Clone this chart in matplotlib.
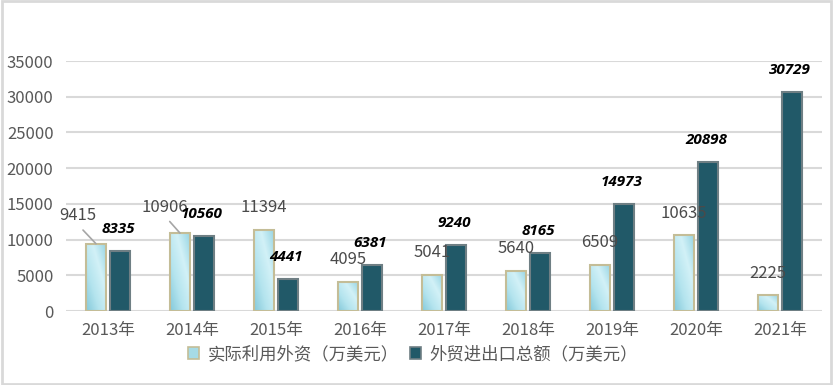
import numpy as np
import matplotlib
matplotlib.use("Agg")
import matplotlib.pyplot as plt
from matplotlib.colors import LinearSegmentedColormap
from matplotlib.patches import Rectangle

plt.rcParams["font.family"] = ["Noto Sans CJK SC", "DejaVu Sans"]

# Data
years = ["2013年", "2014年", "2015年", "2016年", "2017年", "2018年", "2019年", "2020年", "2021年"]
fdi = [9415, 10906, 11394, 4095, 5041, 5640, 6509, 10635, 2225]
trade = [8335, 10560, 4441, 6381, 9240, 8165, 14973, 20898, 30729]
fdi_name = "实际利用外资（万美元）"
trade_name = "外贸进出口总额（万美元）"

text_gray = "#595959"
grid_gray = "#d9d9d9"
cyan_edge = "#c4bd97"
dark_face = "#215968"
dark_edge = "#6f7f84"

fig = plt.figure(figsize=(8.33, 3.85), dpi=100)
ax = fig.add_axes([66 / 833, 1 - 311 / 385, (822 - 66) / 833, 250 / 385])

x = np.arange(len(years))
w = 0.23
off = 0.143

# Light cyan "water" gradient for the first series
cmap = LinearSegmentedColormap.from_list("water", ["#86cadb", "#b4e4ee", "#d2f1f7", "#9ad6e4"])
yy, xx = np.mgrid[0:1:40j, 0:1:20j]
grad = (xx + yy) / 2

bars1 = ax.bar(x - off, fdi, w, facecolor="none", edgecolor=cyan_edge, linewidth=1.5, zorder=3)
for b in bars1:
    im = ax.imshow(grad, extent=[b.get_x(), b.get_x() + b.get_width(), 0, b.get_height()],
                   aspect="auto", cmap=cmap, origin="lower", zorder=2, interpolation="bilinear")
    im.set_clip_path(b)

bars2 = ax.bar(x + off, trade, w, facecolor=dark_face, edgecolor=dark_edge, linewidth=1.5, zorder=3)

ax.set_xlim(-0.5, len(years) - 0.5)
ax.set_ylim(0, 35000)
ax.set_yticks(range(0, 35001, 5000))
ax.set_xticks(x)
ax.set_xticklabels(years)
ax.tick_params(axis="y", length=0, pad=9, labelsize=12, labelcolor=text_gray)
ax.tick_params(axis="x", length=0, pad=8, labelsize=12, labelcolor=text_gray)
ax.grid(axis="y", color=grid_gray, linewidth=1.5, zorder=0)
ax.set_axisbelow(True)
for s in ax.spines.values():
    s.set_visible(False)

# Data labels for first series (two were dragged aside with leader lines)
moved = {0: (-18.5, 28), 1: (-15.5, 26)}
for i, v in enumerate(fdi):
    bx = x[i] - off
    if i in moved:
        ax.annotate(str(v), (bx, v), xytext=moved[i], textcoords="offset pixels",
                    ha="center", va="center", fontsize=12, color="#4a4a4a",
                    annotation_clip=False,
                    arrowprops=dict(arrowstyle="-", color="#a6a6a6", lw=1.2,
                                    relpos=(0.5, 0), shrinkA=3, shrinkB=0))
    else:
        ax.annotate(str(v), (bx, v), xytext=(0, 22), textcoords="offset pixels",
                    ha="center", va="center", fontsize=12, color="#4a4a4a",
                    annotation_clip=False)

for i, v in enumerate(trade):
    ax.annotate(str(v), (x[i] + off, v), xytext=(-2, 22), textcoords="offset pixels",
                ha="center", va="center", fontsize=11, color="black",
                fontweight="bold", fontstyle="italic", family=["Open Sans", "DejaVu Sans"],
                annotation_clip=False)

leg_handles = [Rectangle((0, 0), 1, 1, facecolor="#a6dbe6", edgecolor=cyan_edge, linewidth=1.2),
               Rectangle((0, 0), 1, 1, facecolor=dark_face, edgecolor=dark_edge, linewidth=1.2)]
fig.legend(leg_handles, [fdi_name, trade_name], loc="center", bbox_to_anchor=(413 / 833, 1 - 354 / 385),
           ncol=2, frameon=False, fontsize=12.5, labelcolor=text_gray,
           handlelength=0.65, handleheight=0.65, handletextpad=0.5, columnspacing=0.6)

# light gray border around the chart
fig.patches.append(Rectangle((0.002, 0.003), 0.996, 0.994, transform=fig.transFigure,
                             fill=False, edgecolor=grid_gray, linewidth=2))

fig.savefig("out.png", dpi=100)
